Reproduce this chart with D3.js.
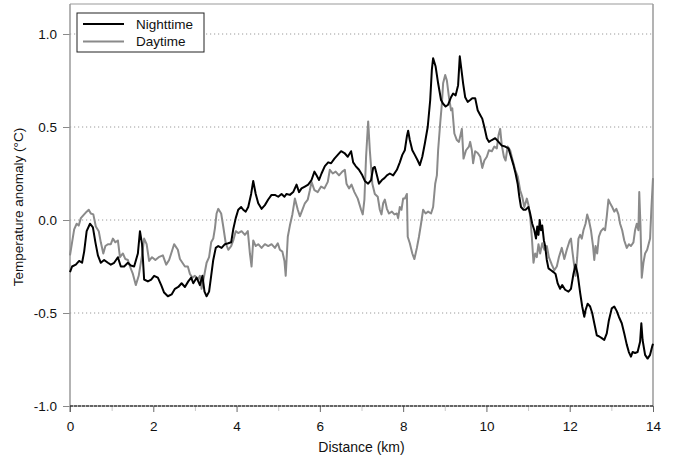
<!DOCTYPE html>
<html>
<head>
<meta charset="utf-8">
<script src="https://cdn.jsdelivr.net/npm/d3@7"></script>
<style>
  html, body { margin: 0; padding: 0; background: #fff; }
  svg { display: block; font-family: Arial, "Liberation Sans", sans-serif; }
</style>
</head>
<body>
<svg id="chart" width="683" height="462"></svg>
<script>
// Temperature anomaly profiles along the transect (distance in km, anomaly in °C)
const nightDistance = [0.00,0.05,0.14,0.22,0.29,0.34,0.40,0.48,0.55,0.61,0.67,0.74,0.82,0.91,0.98,1.06,1.15,1.22,1.30,1.39,1.46,1.54,1.63,1.68,1.73,1.78,1.87,1.95,2.02,2.11,2.19,2.26,2.35,2.44,2.52,2.60,2.68,2.76,2.84,2.91,2.96,3.04,3.12,3.18,3.23,3.28,3.34,3.39,3.44,3.50,3.56,3.64,3.72,3.80,3.87,3.92,3.98,4.04,4.11,4.16,4.22,4.28,4.35,4.40,4.46,4.52,4.60,4.68,4.76,4.84,4.92,5.00,5.08,5.15,5.20,5.28,5.36,5.44,5.50,5.56,5.64,5.72,5.80,5.87,5.92,5.98,6.04,6.12,6.20,6.27,6.35,6.43,6.51,6.59,6.67,6.75,6.80,6.86,6.94,7.02,7.08,7.16,7.23,7.28,7.32,7.37,7.42,7.49,7.55,7.61,7.68,7.76,7.85,7.92,7.98,8.04,8.09,8.12,8.16,8.22,8.28,8.35,8.40,8.46,8.52,8.59,8.65,8.69,8.72,8.78,8.84,8.91,8.96,9.02,9.08,9.15,9.20,9.26,9.32,9.36,9.41,9.44,9.49,9.55,9.61,9.66,9.73,9.79,9.85,9.90,9.95,10.01,10.06,10.13,10.21,10.29,10.37,10.45,10.53,10.59,10.65,10.70,10.75,10.79,10.83,10.89,10.94,11.01,11.05,11.10,11.15,11.19,11.22,11.25,11.28,11.31,11.34,11.38,11.41,11.45,11.49,11.55,11.61,11.66,11.71,11.77,11.82,11.89,11.97,12.03,12.09,12.14,12.19,12.25,12.30,12.35,12.38,12.43,12.49,12.54,12.59,12.65,12.70,12.77,12.83,12.89,12.94,13.01,13.07,13.13,13.18,13.25,13.31,13.37,13.42,13.47,13.51,13.57,13.63,13.69,13.72,13.75,13.81,13.87,13.93,13.98,14.00];
const nightAnomaly = [-0.28,-0.25,-0.24,-0.22,-0.23,-0.17,-0.06,-0.02,-0.04,-0.12,-0.19,-0.23,-0.215,-0.23,-0.24,-0.23,-0.20,-0.25,-0.25,-0.23,-0.245,-0.25,-0.18,-0.06,-0.13,-0.32,-0.33,-0.32,-0.30,-0.31,-0.35,-0.39,-0.41,-0.40,-0.37,-0.36,-0.34,-0.36,-0.33,-0.31,-0.34,-0.31,-0.35,-0.30,-0.385,-0.41,-0.385,-0.30,-0.215,-0.15,-0.14,-0.15,-0.13,-0.125,-0.12,-0.05,0.01,0.055,0.07,0.055,0.045,0.07,0.14,0.21,0.14,0.09,0.06,0.08,0.11,0.135,0.135,0.125,0.14,0.125,0.14,0.135,0.15,0.19,0.15,0.17,0.18,0.19,0.215,0.26,0.24,0.215,0.25,0.29,0.31,0.305,0.33,0.35,0.37,0.36,0.34,0.37,0.31,0.29,0.27,0.24,0.21,0.195,0.215,0.28,0.285,0.24,0.195,0.215,0.225,0.24,0.25,0.24,0.27,0.31,0.35,0.375,0.45,0.48,0.43,0.375,0.35,0.32,0.295,0.34,0.41,0.50,0.645,0.81,0.87,0.825,0.735,0.645,0.625,0.61,0.62,0.66,0.68,0.67,0.725,0.88,0.79,0.735,0.66,0.635,0.645,0.655,0.655,0.59,0.565,0.545,0.50,0.44,0.42,0.43,0.44,0.42,0.40,0.395,0.385,0.34,0.295,0.25,0.195,0.125,0.07,0.055,0.055,0.07,0.035,-0.02,-0.055,-0.10,-0.035,-0.08,0.0,-0.055,-0.03,-0.11,-0.14,-0.215,-0.26,-0.27,-0.28,-0.29,-0.34,-0.37,-0.35,-0.375,-0.385,-0.37,-0.29,-0.24,-0.29,-0.39,-0.465,-0.52,-0.485,-0.45,-0.465,-0.50,-0.555,-0.62,-0.625,-0.635,-0.645,-0.61,-0.54,-0.475,-0.465,-0.49,-0.52,-0.555,-0.61,-0.67,-0.71,-0.735,-0.71,-0.715,-0.71,-0.655,-0.555,-0.645,-0.725,-0.745,-0.725,-0.68,-0.665];

const dayDistance = [0.00,0.05,0.10,0.16,0.21,0.26,0.34,0.40,0.45,0.50,0.56,0.62,0.69,0.74,0.80,0.85,0.91,0.98,1.03,1.09,1.15,1.20,1.27,1.33,1.39,1.44,1.51,1.58,1.65,1.73,1.78,1.84,1.90,1.97,2.05,2.13,2.23,2.31,2.38,2.43,2.50,2.59,2.64,2.70,2.76,2.83,2.88,2.94,3.00,3.07,3.12,3.16,3.23,3.28,3.34,3.39,3.44,3.48,3.52,3.56,3.63,3.68,3.74,3.80,3.87,3.92,3.98,4.04,4.12,4.20,4.27,4.32,4.36,4.40,4.46,4.52,4.60,4.68,4.76,4.84,4.92,4.99,5.04,5.10,5.15,5.18,5.23,5.28,5.34,5.40,5.47,5.52,5.58,5.64,5.71,5.76,5.80,5.87,5.95,6.03,6.11,6.19,6.24,6.31,6.38,6.46,6.54,6.60,6.64,6.70,6.76,6.83,6.91,6.99,7.03,7.07,7.11,7.16,7.20,7.26,7.32,7.39,7.44,7.48,7.52,7.56,7.61,7.66,7.73,7.79,7.85,7.88,7.92,7.96,8.00,8.04,8.09,8.11,8.16,8.22,8.27,8.33,8.38,8.43,8.48,8.54,8.60,8.67,8.72,8.77,8.81,8.84,8.89,8.93,8.96,9.01,9.05,9.10,9.15,9.18,9.23,9.29,9.34,9.41,9.45,9.51,9.58,9.61,9.65,9.68,9.73,9.79,9.85,9.90,9.95,10.01,10.06,10.13,10.19,10.25,10.29,10.33,10.37,10.42,10.46,10.51,10.57,10.62,10.69,10.75,10.81,10.86,10.91,10.97,11.01,11.05,11.09,11.13,11.17,11.21,11.25,11.29,11.34,11.39,11.45,11.50,11.57,11.63,11.69,11.74,11.81,11.87,11.93,12.00,12.03,12.06,12.11,12.14,12.18,12.21,12.25,12.29,12.33,12.38,12.42,12.46,12.51,12.56,12.59,12.62,12.66,12.70,12.75,12.81,12.85,12.89,12.93,12.97,13.02,13.07,13.12,13.17,13.21,13.26,13.31,13.37,13.42,13.47,13.53,13.57,13.61,13.65,13.67,13.70,13.73,13.77,13.81,13.86,13.90,13.93,13.96,14.00];
const dayAnomaly = [-0.19,-0.12,-0.05,-0.02,-0.03,0.01,0.03,0.045,0.055,0.035,0.03,-0.035,-0.06,-0.12,-0.18,-0.14,-0.13,-0.13,-0.10,-0.12,-0.11,-0.20,-0.18,-0.21,-0.215,-0.25,-0.29,-0.35,-0.30,-0.19,-0.10,-0.13,-0.22,-0.20,-0.215,-0.20,-0.19,-0.24,-0.215,-0.18,-0.13,-0.16,-0.21,-0.23,-0.25,-0.25,-0.29,-0.31,-0.30,-0.32,-0.30,-0.37,-0.29,-0.23,-0.20,-0.12,-0.10,-0.045,0.035,0.06,0.035,-0.035,-0.125,-0.16,-0.14,-0.11,-0.06,-0.07,-0.06,-0.08,-0.06,-0.18,-0.25,-0.11,-0.14,-0.13,-0.15,-0.13,-0.14,-0.13,-0.15,-0.125,-0.16,-0.17,-0.22,-0.30,-0.09,-0.03,0.03,0.115,0.055,0.02,0.055,0.09,0.11,0.16,0.205,0.16,0.15,0.18,0.17,0.205,0.27,0.25,0.26,0.24,0.26,0.27,0.195,0.17,0.19,0.15,0.115,0.055,0.03,0.11,0.34,0.53,0.375,0.195,0.14,0.125,0.055,0.03,0.09,0.11,0.06,0.035,0.045,0.03,0.035,0.01,0.07,0.055,0.115,0.115,0.14,-0.09,-0.125,-0.18,-0.21,-0.15,-0.09,-0.02,0.055,0.035,0.045,0.035,0.07,0.195,0.24,0.375,0.52,0.625,0.735,0.78,0.75,0.66,0.59,0.60,0.465,0.43,0.42,0.49,0.33,0.375,0.395,0.42,0.375,0.305,0.37,0.36,0.34,0.28,0.32,0.34,0.375,0.37,0.395,0.385,0.455,0.49,0.40,0.34,0.32,0.395,0.375,0.33,0.27,0.235,0.16,0.125,0.07,0.115,0.08,0.02,-0.09,-0.23,-0.18,-0.20,-0.13,-0.18,-0.125,-0.16,-0.14,-0.20,-0.24,-0.27,-0.25,-0.20,-0.15,-0.21,-0.16,-0.11,-0.10,-0.16,-0.25,-0.30,-0.20,-0.10,-0.08,-0.10,-0.055,-0.02,0.03,0.0,-0.055,-0.14,-0.215,-0.14,-0.18,-0.09,-0.06,-0.045,-0.055,0.02,0.11,0.09,0.07,0.045,0.06,0.03,-0.02,-0.055,-0.11,-0.15,-0.13,-0.14,-0.12,-0.055,-0.02,-0.055,0.15,-0.035,-0.31,-0.23,-0.18,-0.16,-0.125,-0.10,0.055,0.225];

const xTicks = [0, 2, 4, 6, 8, 10, 12, 14];
const xMinorTicks = [1, 3, 5, 7, 9, 11, 13];
const yTicks = [-1.0, -0.5, 0.0, 0.5, 1.0];
const seriesNames = ["Nighttime", "Daytime"];
const seriesColors = ["#000000", "#8a8a8a"];

const nightData = nightDistance.map((d, i) => ({ x: d, y: nightAnomaly[i] }));
const dayData = dayDistance.map((d, i) => ({ x: d, y: dayAnomaly[i] }));

const svg = d3.select("#chart");
const margin = { left: 70, right: 30, top: 4, bottom: 56 };
const W = 683, H = 462;
const fontStack = "Arial, 'Liberation Sans', sans-serif";

const x = d3.scaleLinear().domain([0, 14]).range([margin.left, W - margin.right]);
const y = d3.scaleLinear().domain([-1, 1.0]).range([406, 34]);
const yTop = margin.top;
const yBottom = y(-1);

// tick labels use a plain hyphen for negatives
const fmtY = d => d3.format(".1f")(d).replace("\u2212", "-");

// frame: top and right edges
svg.append("line").attr("x1", x(0)).attr("x2", x(14)).attr("y1", yTop).attr("y2", yTop)
  .attr("stroke", "#9a9a9a").attr("stroke-width", 1.2);
svg.append("line").attr("x1", x(14)).attr("x2", x(14)).attr("y1", yTop).attr("y2", yBottom)
  .attr("stroke", "#9a9a9a").attr("stroke-width", 1.5);

// dotted horizontal gridlines
svg.append("g").selectAll("line").data(yTicks.filter(v => v > -1)).join("line")
  .attr("x1", x(0)).attr("x2", x(14))
  .attr("y1", d => y(d)).attr("y2", d => y(d))
  .attr("stroke", "#9a9a9a").attr("stroke-width", 1)
  .attr("stroke-dasharray", "1.2,2.8");

// y axis
const yAxis = d3.axisLeft(y).tickValues(yTicks).tickFormat(fmtY).tickSize(7).tickPadding(6);
const gy = svg.append("g").attr("transform", `translate(${x(0)},0)`).call(yAxis);
gy.select(".domain").remove();
gy.selectAll(".tick line").attr("stroke", "#8a8a8a");
gy.selectAll(".tick text").attr("font-size", 13.5).attr("fill", "#111")
  .attr("font-family", fontStack);
svg.append("line").attr("x1", x(0)).attr("x2", x(0)).attr("y1", yTop).attr("y2", yBottom + 6)
  .attr("stroke", "#9a9a9a").attr("stroke-width", 1.5);

// x axis: minor ticks, major ticks and labels
svg.append("g").attr("transform", `translate(0,${yBottom})`)
  .call(d3.axisBottom(x).tickValues(xMinorTicks).tickSize(5).tickFormat(""))
  .call(g => g.select(".domain").remove())
  .call(g => g.selectAll(".tick line").attr("stroke", "#c8c8c8"));
const gx = svg.append("g").attr("transform", `translate(0,${yBottom})`)
  .call(d3.axisBottom(x).tickValues(xTicks).tickFormat(d3.format("d")).tickSize(6).tickPadding(9));
gx.select(".domain").remove();
gx.selectAll(".tick line").attr("stroke", "#666");
gx.selectAll(".tick text").attr("font-size", 13.5).attr("fill", "#111")
  .attr("font-family", fontStack);

// bottom axis line with dotted overlay
svg.append("line").attr("x1", x(0)).attr("x2", x(14)).attr("y1", yBottom).attr("y2", yBottom)
  .attr("stroke", "#777").attr("stroke-width", 1);
svg.append("line").attr("x1", x(0)).attr("x2", x(14)).attr("y1", yBottom).attr("y2", yBottom)
  .attr("stroke", "#111").attr("stroke-width", 1.2).attr("stroke-dasharray", "3,1");

// series lines
const line = d3.line().x(d => x(d.x)).y(d => y(d.y));
svg.append("path").datum(dayData).attr("d", line)
  .attr("fill", "none").attr("stroke", seriesColors[1]).attr("stroke-width", 2)
  .attr("stroke-linejoin", "round");
svg.append("path").datum(nightData).attr("d", line)
  .attr("fill", "none").attr("stroke", seriesColors[0]).attr("stroke-width", 2)
  .attr("stroke-linejoin", "round");

// axis titles
svg.append("text").attr("x", (x(0) + x(14)) / 2).attr("y", 452)
  .attr("text-anchor", "middle").attr("font-size", 14).attr("fill", "#111")
  .text("Distance (km)");
svg.append("text").attr("transform", `translate(23,${(yTop + yBottom) / 2 + 2}) rotate(-90)`)
  .attr("text-anchor", "middle").attr("font-size", 13.5).attr("fill", "#111")
  .text("Temperature anomaly (°C)");

// legend
const lg = svg.append("g").attr("transform", "translate(77,13)");
lg.append("rect").attr("width", 127).attr("height", 39)
  .attr("fill", "#fff").attr("stroke", "#222").attr("stroke-width", 1);
seriesNames.forEach((name, i) => {
  const ly = 11 + i * 17.5;
  lg.append("line").attr("x1", 6).attr("x2", 47).attr("y1", ly).attr("y2", ly)
    .attr("stroke", seriesColors[i]).attr("stroke-width", 2);
  lg.append("text").attr("x", 59).attr("y", ly + 4.5).attr("font-size", 13.5).attr("fill", "#111")
    .text(name);
});
</script>
</body>
</html>
